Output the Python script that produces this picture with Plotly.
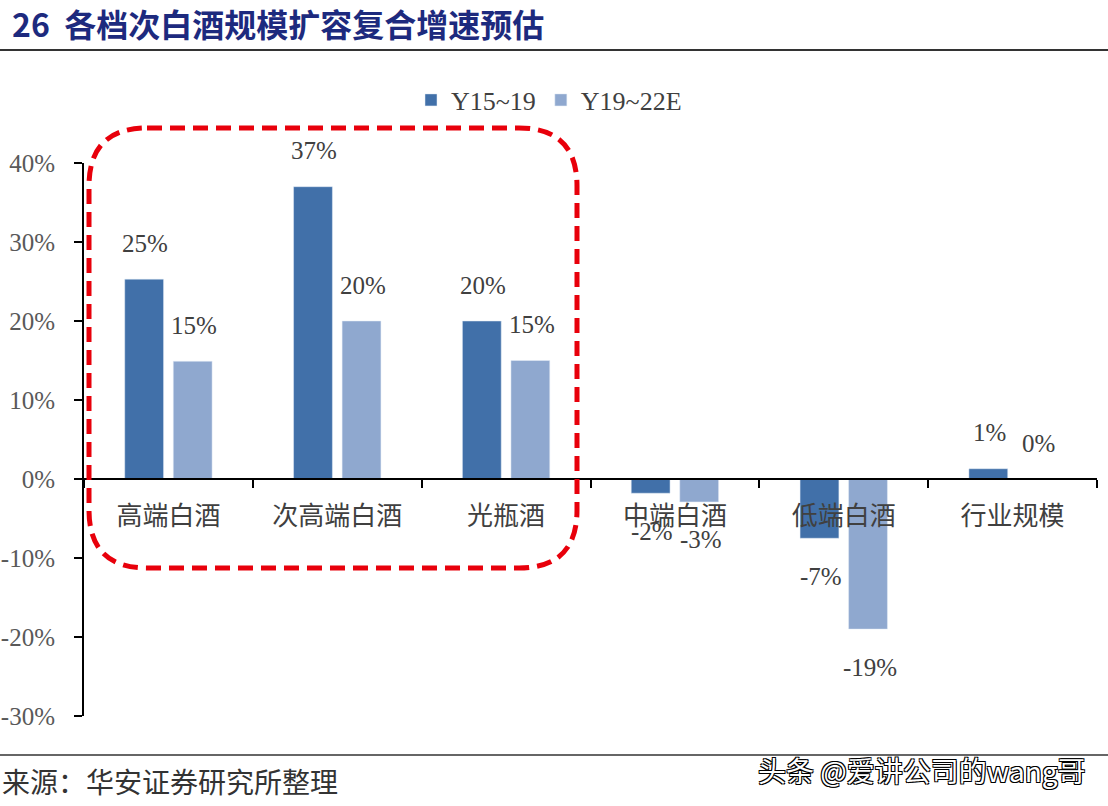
import plotly.graph_objects as go

categories = ["高端白酒", "次高端白酒", "光瓶酒", "中端白酒", "低端白酒", "行业规模"]
y15_19 = [25.3, 37.0, 20.0, -1.8, -7.5, 1.3]
y19_22e = [14.9, 20.0, 15.0, -2.9, -19.0, 0.0]
labels_15_19 = ["25%", "37%", "20%", "-2%", "-7%", "1%"]
labels_19_22e = ["15%", "20%", "15%", "-3%", "-19%", "0%"]
series_names = ["Y15~19", "Y19~22E"]
ytick_vals = [-30, -20, -10, 0, 10, 20, 30, 40]
ytick_text = ["-30%", "-20%", "-10%", "0%", "10%", "20%", "30%", "40%"]

W, H = 1108, 806
ML, MR, MT, MB = 84, 11, 163, 90
PW, PH = W - ML - MR, H - MT - MB

DARK = "#4170A9"
LIGHT = "#8FA8CF"
SERIF = "Liberation Serif, Times New Roman, serif"
CJK = "Noto Sans CJK SC, sans-serif"

fig = go.Figure()
fig.add_trace(go.Bar(x=categories, y=y15_19, name=series_names[0], marker_color=DARK))
fig.add_trace(go.Bar(x=categories, y=y19_22e, name=series_names[1], marker_color=LIGHT))

annotations = []
for vals, labs, xs in ((y15_19, labels_15_19, -23), (y19_22e, labels_19_22e, 26)):
    for c, v, t in zip(categories, vals, labs):
        annotations.append(dict(
            x=c, y=v, xref="x", yref="y", text=t, showarrow=False,
            xshift=xs, yshift=36 if v >= 0 else -38,
            font=dict(family=SERIF, size=25, color="#404040"),
        ))


def px2paper(px, py):
    return (px - ML) / PW, (H - MB - py) / PH


# source + watermark
sx, sy = px2paper(0, 781)
annotations.append(dict(
    x=sx, y=sy, xref="paper", yref="paper", text="来源：华安证券研究所整理", showarrow=False,
    xanchor="left", yanchor="middle", font=dict(family=CJK, size=28, color="#333333"),
))
wx, wy = px2paper(1088, 770)
annotations.append(dict(
    x=wx, y=wy, xref="paper", yref="paper",
    text="头条 @爱讲公司的wang哥", showarrow=False, xanchor="right", yanchor="middle",
    font=dict(family=CJK, size=28, color="#ffffff",
              shadow="1px 1px 0 #000, -1px -1px 0 #000, 1px -1px 0 #000, -1px 1px 0 #000"),
))

# rounded dashed rectangle (pixel geometry converted to paper)
x0, x1, y0, y1, r = 89, 577, 128, 568, 58
pts = [
    ("M", [(x0 + r, y0)]),
    ("L", [(x1 - r, y0)]),
    ("Q", [(x1, y0), (x1, y0 + r)]),
    ("L", [(x1, y1 - r)]),
    ("Q", [(x1, y1), (x1 - r, y1)]),
    ("L", [(x0 + r, y1)]),
    ("Q", [(x0, y1), (x0, y1 - r)]),
    ("L", [(x0, y0 + r)]),
    ("Q", [(x0, y0), (x0 + r, y0)]),
]
path = ""
for cmd, ps in pts:
    path += cmd + " " + " ".join("%.5f,%.5f" % px2paper(*p) for p in ps) + " "
path += "Z"

shapes = [
    dict(type="path", path=path, xref="paper", yref="paper",
         line=dict(color="#E8000B", width=5, dash="15px,8px")),
    dict(type="line", xref="paper", yref="paper",
         x0=px2paper(0, 0)[0], x1=px2paper(W, 0)[0], y0=px2paper(0, 50)[1], y1=px2paper(0, 50)[1],
         line=dict(color="#333333", width=2)),
    dict(type="line", xref="paper", yref="paper",
         x0=px2paper(0, 0)[0], x1=px2paper(W, 0)[0], y0=px2paper(0, 755)[1], y1=px2paper(0, 755)[1],
         line=dict(color="#333333", width=1.5)),
]

lx, ly = px2paper(411, 100)
fig.update_layout(
    width=W, height=H,
    margin=dict(l=ML, r=MR, t=MT, b=MB, autoexpand=False),
    paper_bgcolor="white", plot_bgcolor="white",
    barmode="group", bargap=0.425, bargroupgap=0.2,
    title=dict(text="<b>26  各档次白酒规模扩容复合增速预估</b>", xref="container", yref="container",
               x=12 / W, y=1 - 26 / H, xanchor="left", yanchor="middle",
               font=dict(family="Noto Sans CJK SC, Arial, sans-serif", size=32, color="#1D2A7E")),
    legend=dict(orientation="h", x=lx, y=ly, xanchor="left", yanchor="middle",
                font=dict(family=SERIF, size=26, color="#404040"), bgcolor="rgba(0,0,0,0)",
                itemwidth=30, tracegroupgap=0),
    xaxis=dict(anchor="free", position=30 / 70, showline=True, linecolor="black", linewidth=2,
               ticks="outside", tickson="boundaries", ticklen=8, tickwidth=2, tickcolor="black",
               ticklabelstandoff=14, showgrid=False, automargin=False,
               tickfont=dict(family=CJK, size=26, color="#404040")),
    yaxis=dict(range=[-30, 40], tickvals=ytick_vals, ticktext=ytick_text, showline=True,
               linecolor="black", linewidth=2, ticks="outside", ticklen=8, tickwidth=2, tickcolor="black",
               showgrid=False, zeroline=False, ticklabelstandoff=14, automargin=False,
               tickfont=dict(family=SERIF, size=25, color="#595959")),
    annotations=annotations,
    shapes=shapes,
    showlegend=True,
)

fig.write_html("out.html")
